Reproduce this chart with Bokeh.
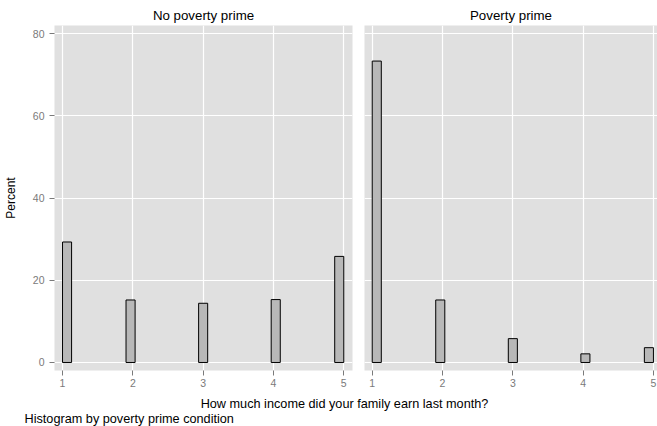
import numpy as np
from bokeh.plotting import figure
from bokeh.layouts import column, row
from bokeh.models import Range1d, FixedTicker, ColumnDataSource
from bokeh.core.properties import value
from bokeh.embed import file_html
from bokeh.resources import INLINE

# ---- data ----
income_levels = [1, 2, 3, 4, 5]
pct_no_prime = [29.3, 15.2, 14.4, 15.3, 25.8]
pct_prime = [73.3, 15.2, 5.8, 2.1, 3.6]
panel_titles = ["No poverty prime", "Poverty prime"]
y_ticks = [0, 20, 40, 60, 80]
x_ticks = [1, 2, 3, 4, 5]
n_bins = 31
x_title = "How much income did your family earn last month?"
caption = "Histogram by poverty prime condition"
y_title = "Percent"

FONT = "Liberation Sans"
BG = "#E0E0E0"
BAR = "#B8B8B8"
GRAY = "#7A7A7A"

edges = np.linspace(1, 5, n_bins + 1)
bw = 4.0 / n_bins
idx = np.minimum(((np.array(income_levels) - 1) / bw).astype(int), n_bins - 1)
left_e = edges[idx]
right_e = edges[idx + 1]

y_range = Range1d(-1.95, 81.95)


def make_panel(title, pct, width, xr, show_y, bl, br):
    p = figure(width=width, height=390, x_range=xr, y_range=y_range,
               output_backend="svg", toolbar_location=None,
               y_axis_location="left" if show_y else None,
               min_border_left=bl, min_border_right=br,
               min_border_top=25, min_border_bottom=20)
    p.background_fill_color = BG
    p.border_fill_color = "white"
    p.outline_line_color = None
    p.title.text = title
    p.title.align = "center"
    p.title.text_font = FONT
    p.title.text_font_size = "13.3px"
    p.title.text_font_style = "normal"
    p.title.text_color = "black"
    p.title.standoff = 5
    src = ColumnDataSource(dict(left=left_e, right=right_e, top=pct,
                                bottom=[0] * len(pct)))
    p.quad(left="left", right="right", top="top", bottom="bottom", source=src,
           fill_color=BAR, line_color="black", line_width=1)
    p.xgrid.ticker = FixedTicker(ticks=x_ticks)
    p.ygrid.ticker = FixedTicker(ticks=y_ticks)
    p.grid.grid_line_color = "white"
    p.grid.grid_line_width = 1.2
    p.grid.level = "image"
    for ax in p.axis:
        ax.axis_line_color = None
        ax.major_tick_line_color = GRAY
        ax.major_tick_out = 5
        ax.major_tick_in = 0
        ax.minor_tick_line_color = None
        ax.major_label_text_color = GRAY
        ax.major_label_text_font = FONT
        ax.major_label_text_font_size = "10.5px"
    p.xaxis.ticker = FixedTicker(ticks=x_ticks)
    p.xaxis.major_label_standoff = 3
    if show_y:
        p.yaxis.ticker = FixedTicker(ticks=y_ticks)
        p.yaxis.major_label_standoff = 5
        p.yaxis.axis_label = y_title
        p.yaxis.axis_label_text_font = FONT
        p.yaxis.axis_label_text_font_size = "12px"
        p.yaxis.axis_label_text_font_style = "normal"
        p.yaxis.axis_label_text_color = "black"
        p.yaxis.axis_label_standoff = 12
    return p


p1 = make_panel(panel_titles[0], pct_no_prime, 358, Range1d(0.886, 5.124), True, 54, 6)
p2 = make_panel(panel_titles[1], pct_prime, 299, Range1d(0.89, 0.89 + 293 / 70.3), False, 6, 0)

pb = figure(width=657, height=36, x_range=Range1d(0, 657), y_range=Range1d(36, 0),
            output_backend="svg", toolbar_location=None,
            x_axis_location=None, y_axis_location=None,
            min_border=0, min_border_left=0, min_border_right=0,
            min_border_top=0, min_border_bottom=0)
pb.outline_line_color = None
pb.xgrid.visible = False
pb.ygrid.visible = False
pb.background_fill_color = "white"
pb.text(x=[344], y=[13], text=[x_title], text_align="center", text_baseline="middle",
        text_font=value(FONT), text_font_size="12.7px", text_color="black")
pb.text(x=[24], y=[28], text=[caption], text_align="left", text_baseline="middle",
        text_font=value(FONT), text_font_size="12.7px", text_color="black")

layout = column(row(p1, p2, spacing=0), pb, spacing=0)

open("out.html", "w").write(file_html(layout, INLINE))
